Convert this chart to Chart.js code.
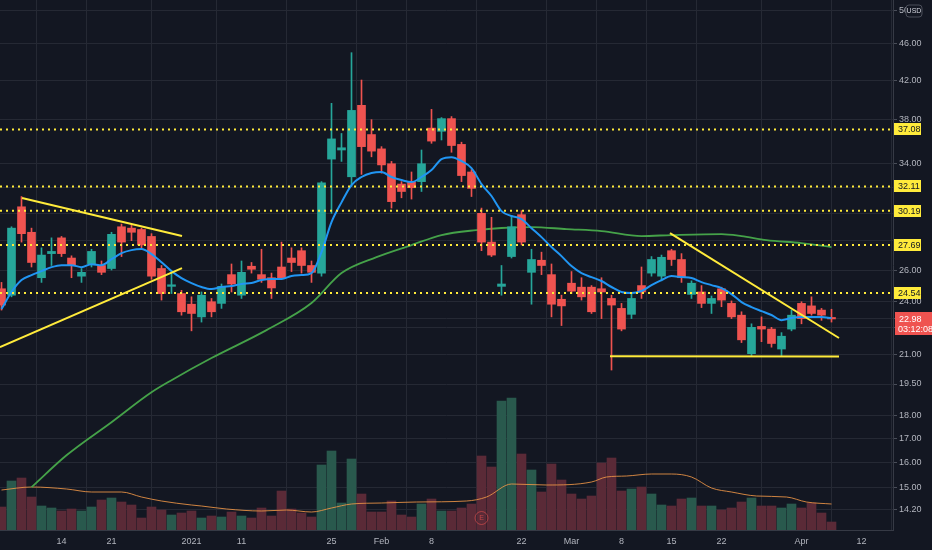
<!DOCTYPE html>
<html><head><meta charset="utf-8">
<script src="https://cdn.jsdelivr.net/npm/chart.js@4.4.1/dist/chart.umd.min.js"></script>
<style>html,body{margin:0;padding:0;background:#131722;overflow:hidden}canvas{display:block}</style>
</head><body>
<canvas id="c" width="932" height="550" style="width:932px;height:550px"></canvas>
<script>
// ---- data (daily candles, index 0 = Dec 4 2020) ----
const open  = [24.8,24.4,30.5,28.6,25.5,27.1,28.2,26.8,25.6,26.4, 26.3,26.1,29.0,28.9,28.8,28.3,26.1,24.95,24.5,23.85, 23.1,24.0,23.9,25.7,24.4,26.25,25.7,25.5,26.2,26.8, 27.3,26.3,25.8,34.4,35.2,32.9,39.4,36.6,35.3,34.0, 32.3,32.45,32.5,37.2,36.9,38.1,35.7,33.3,30.0,27.9, 24.95,26.9,29.9,25.85,26.65,25.7,24.15,25.15,24.9,24.9, 24.8,24.2,23.6,23.25,25.0,25.8,25.6,27.3,26.7,24.45, 24.6,23.9,24.8,23.9,23.2,21.05,22.55,22.4,21.3,22.4, 23.9,23.75,23.5,23.05];
const high  = [25.2,29.0,31.3,28.9,27.5,28.2,28.3,26.95,26.1,27.4, 26.6,28.6,29.2,29.1,28.9,28.5,26.3,25.8,24.7,24.3, 24.6,24.2,25.1,26.4,26.6,26.5,27.4,25.8,27.9,27.5, 27.5,26.6,32.5,39.6,36.7,45.0,42.0,38.0,35.5,34.2, 32.5,33.3,35.2,39.0,38.2,38.3,35.9,33.5,30.4,29.7, 26.3,29.8,30.2,27.4,27.2,26.4,24.4,25.9,25.5,25.0, 25.5,24.4,23.9,24.5,26.2,26.9,27.0,27.4,27.1,25.3, 25.0,24.35,24.9,24.05,23.4,22.7,23.1,22.5,22.2,23.5, 24.0,24.3,23.6,23.55];
const low   = [23.5,24.3,27.9,26.2,25.2,26.3,26.9,25.5,25.2,26.2, 25.7,26.0,26.9,28.0,27.5,25.4,24.1,24.5,23.2,22.3, 22.8,23.1,23.6,24.6,24.2,25.8,25.2,24.2,25.4,25.9, 25.8,25.2,25.6,30.0,34.2,32.1,33.1,34.6,33.2,30.4, 31.2,31.1,31.7,35.8,36.1,35.0,32.5,31.3,27.3,26.9, 24.4,26.8,27.7,23.85,25.7,23.1,22.6,24.5,24.1,23.3, 23.0,20.2,22.3,23.0,24.2,25.6,25.3,26.3,25.2,24.2, 23.65,23.3,23.7,23.0,21.65,20.95,21.7,21.4,20.95,22.3, 22.7,23.2,22.9,22.8];
const close = [23.8,28.9,28.5,26.5,27.0,27.25,27.1,26.3,25.85,27.25, 25.85,28.45,27.9,28.6,27.7,25.6,24.5,25.05,23.4,23.3, 24.4,23.4,24.95,25.1,25.85,26.05,25.4,24.85,25.5,26.5, 26.3,25.85,32.4,36.2,35.4,38.9,35.5,35.1,33.9,30.9, 31.7,32.0,34.0,36.0,38.1,35.6,33.0,31.95,27.9,27.0, 25.1,29.0,27.9,26.7,26.3,23.85,23.75,24.65,24.3,23.4, 24.6,23.8,22.4,24.2,24.6,26.7,26.85,26.7,25.5,25.15, 23.9,24.2,24.1,23.1,21.8,22.5,22.4,21.6,22.0,23.2, 23.0,23.3,23.2,22.98];
const volume = [2.3,4.9,5.2,3.3,2.4,2.2,1.9,2.1,1.9,2.3, 3.0,3.2,2.8,2.5,1.2,2.3,2.0,1.5,1.7,1.9, 1.2,1.4,1.3,1.8,1.4,1.2,2.2,1.4,3.9,2.1, 1.7,1.3,6.5,7.9,2.7,7.1,3.6,1.8,1.8,2.9, 1.5,1.3,2.6,3.1,1.9,1.9,2.2,2.6,7.4,6.3, 12.9,13.2,7.6,6.0,3.8,6.6,5.0,3.6,3.1,3.4, 6.7,7.2,3.9,4.1,4.3,3.6,2.5,2.4,3.1,3.2, 2.4,2.4,2.0,2.2,2.8,3.2,2.4,2.4,2.2,2.6, 2.2,2.7,1.7,0.8];
const maFast = [23.56,24.6,25.35,25.67,25.93,26.19,26.32,26.32,26.19,26.39, 26.32,26.72,27.13,27.34,27.41,27.07,26.52,25.93,25.48,25.16, 24.91,24.78,24.91,24.97,25.10,25.16,25.35,25.42,25.42,25.61, 25.67,25.80,27.2,29.34,30.84,32.22,32.88,33.21,33.29,32.88, 32.63,32.46,32.88,33.46,34.40,34.57,34.23,33.63,32.30,31.34, 30.17,29.80,29.57,28.90,28.25,27.55,26.93,26.26,25.80,25.54, 25.29,24.91,24.60,24.53,24.66,25.03,25.35,25.61,25.54,25.48, 25.22,25.03,24.84,24.47,23.98,23.68,23.44,23.21,22.91,23.03, 23.09,23.09,23.09,23.03];
const maSlowIdx = [3,6.5,11,15,17,21,26.5,31,34,37.5,41,44,47.5,50,53,56.5,60,64,67,72,74,76.5,80,83];
const maSlow    = [15.03,16.29,17.71,19.10,19.69,20.82,22.34,23.92,25.80,26.86,27.69,28.40,28.76,28.91,28.98,28.83,28.69,28.33,28.40,28.47,28.33,28.04,27.83,27.55];
const volMaIdx = [0,3,6.5,9,12,14,16,19,20,22.5,26,28.5,31,33,35,38,41.5,46.5,48.5,51,54.5,59,60.5,62.5,65,67,69,71,73,75.5,78.5,80.5,83];
const volMa    = [4.0,4.3,4.1,3.8,3.8,3.3,2.9,2.5,2.4,2.1,1.9,2.0,1.8,2.2,2.6,2.7,2.8,2.9,3.3,4.6,4.5,4.8,5.3,5.4,5.6,5.6,5.3,4.2,3.8,3.4,3.3,2.8,2.6];
const levels = [37.08, 32.11, 30.19, 27.69, 24.54];
const trendA = [[2.05,31.18],[18.05,28.33]];
const trendB = [[-0.15,21.40],[18.05,26.13]];
const trendC = [[66.85,28.54],[83.75,21.90]];
const trendD = [[60.85,20.92],[83.75,20.90]];
const lastPrice = 22.98;
const countdown = '03:12:08';
const earningsIdx = 48;
const xTickIdx  = [6,11,19,24,33,38,43,52,57,62,67,72,80,86];
const xTickText = ['14','21','2021','11','25','Feb','8','22','Mar','8','15','22','Apr','12'];
const yTickVals = [14.2,15,16,17,18,19.5,21,22.5,23,24,26,28,30,32,34,38,42,46,50];
const yTickText = ['14.20','15.00','16.00','17.00','18.00','19.50','21.00','','','24.00','26.00','','','','34.00','38.00','42.00','46.00','50.00'];

// ---- styling ----
const UP = '#26a69a', DOWN = '#ef5350';
const UPV = '#29594d', DOWNV = '#5a2a37';
const GRID = '#252934', TXT = '#b2b5be', BG = '#131722';
const X_MIN = -0.15, X_MAX = 89.15;
const FONT = '"Liberation Sans", Arial, sans-serif';

const idx = open.map((_, i) => i);
const isUp = idx.map(i => close[i] >= open[i]);
const candleColor = isUp.map(u => u ? UP : DOWN);

const lineDs = (pts, color, width, order, dash) => ({
  type: 'line', data: pts.map(p => ({x: p[0], y: p[1]})), borderColor: color, borderWidth: width,
  borderDash: dash || [], pointRadius: 0, fill: false, order: order, yAxisID: 'y', tension: 0
});

const datasets = [
  { type: 'bar', label: 'vol', data: idx.map(i => ({x: i, y: volume[i]})), yAxisID: 'yv',
    backgroundColor: isUp.map(u => u ? UPV : DOWNV), barThickness: 9, grouped: false, order: 10 },
  { type: 'line', label: 'volma', data: volMaIdx.map((x, k) => ({x, y: volMa[k]})), yAxisID: 'yv',
    borderColor: 'rgba(240,150,70,0.85)', borderWidth: 1, pointRadius: 0, cubicInterpolationMode: 'monotone', order: 9 },
  { type: 'line', label: 'maSlow', data: maSlowIdx.map((x, k) => ({x, y: maSlow[k]})), yAxisID: 'y',
    borderColor: '#45a249', borderWidth: 1.8, pointRadius: 0, cubicInterpolationMode: 'monotone', order: 8 },
  { type: 'bar', label: 'wick', data: idx.map(i => ({x: i, y: [low[i], high[i]]})), yAxisID: 'y',
    backgroundColor: candleColor, barThickness: 1, grouped: false, order: 7 },
  { type: 'bar', label: 'body', data: idx.map(i => ({x: i, y: [Math.min(open[i], close[i]), Math.max(open[i], close[i])]})), yAxisID: 'y',
    backgroundColor: candleColor, barThickness: 8, minBarLength: 1.5, grouped: false, order: 6 },
  { type: 'line', label: 'maFast', data: idx.map(i => ({x: i, y: maFast[i]})), yAxisID: 'y',
    borderColor: '#2196f3', borderWidth: 2, pointRadius: 0, cubicInterpolationMode: 'monotone', order: 5 },
];
levels.forEach(v => datasets.push(lineDs([[X_MIN, v], [X_MAX, v]], '#ffeb3b', 2, 4, [2, 4])));
[trendA, trendB, trendC, trendD].forEach(t => datasets.push(lineDs(t, '#ffeb3b', 2, 3)));

const bgPlugin = { id: 'bg', beforeDraw(c) { const ctx = c.ctx; ctx.save(); ctx.fillStyle = BG; ctx.fillRect(0, 0, c.width, c.height); ctx.restore(); } };

const overlay = { id: 'overlay', afterDraw(c) {
  const ctx = c.ctx, ys = c.scales.y, xs = c.scales.x, a = c.chartArea;
  ctx.save();
  ctx.font = '9px ' + FONT;
  ctx.textBaseline = 'middle';
  ctx.textAlign = 'left';
  levels.forEach(v => {
    const y = Math.round(ys.getPixelForValue(v));
    ctx.fillStyle = '#ffeb3b';
    ctx.fillRect(a.right + 1, y - 6, 27, 12);
    ctx.fillStyle = '#131722';
    ctx.fillText(v.toFixed(2), a.right + 5, y + 0.5);
  });
  const yp = Math.round(ys.getPixelForValue(lastPrice));
  ctx.fillStyle = DOWN;
  ctx.fillRect(a.right + 2, yp - 7, c.width - a.right - 2, 23);
  ctx.fillStyle = '#ffffff';
  ctx.fillText(lastPrice.toFixed(2), a.right + 6, yp + 0.5);
  ctx.fillText(countdown, a.right + 5, yp + 10.5);
  // currency badge
  const bx = 906, by = 5, bw = 16, bh = 12;
  ctx.beginPath();
  if (ctx.roundRect) ctx.roundRect(bx, by, bw, bh, 3); else ctx.rect(bx, by, bw, bh);
  ctx.fillStyle = BG; ctx.fill();
  ctx.strokeStyle = '#4a4e59'; ctx.lineWidth = 1; ctx.stroke();
  ctx.fillStyle = '#d1d4dc'; ctx.font = '7px ' + FONT; ctx.textAlign = 'center';
  ctx.fillText('USD', bx + bw / 2, by + bh / 2 + 0.5);
  // earnings marker
  const ex = xs.getPixelForValue(earningsIdx), ey = a.bottom - 12;
  ctx.beginPath(); ctx.arc(ex, ey, 6.5, 0, Math.PI * 2);
  ctx.strokeStyle = 'rgba(239,83,80,0.55)'; ctx.lineWidth = 1; ctx.stroke();
  ctx.fillStyle = 'rgba(239,83,80,0.7)'; ctx.font = '7px ' + FONT;
  ctx.fillText('E', ex, ey + 0.5);
  ctx.restore();
}};

new Chart(document.getElementById('c'), {
  type: 'bar',
  data: { datasets },
  plugins: [bgPlugin, overlay],
  options: {
    responsive: false, animation: false, devicePixelRatio: 1,
    layout: { padding: 0 },
    plugins: { legend: { display: false }, tooltip: { enabled: false } },
    scales: {
      x: {
        type: 'linear', min: X_MIN, max: X_MAX, offset: false,
        afterBuildTicks: s => { s.ticks = xTickIdx.map(v => ({value: v})); },
        afterFit: s => { s.height = 20; s.paddingLeft = 0; s.paddingRight = 0; },
        ticks: { callback: (v, i) => xTickText[i], color: TXT, font: {size: 9, family: FONT}, padding: 6, autoSkip: false, maxRotation: 0 },
        grid: { color: GRID, drawTicks: false },
        border: { color: '#363a45' }
      },
      y: {
        type: 'logarithmic', position: 'right', min: 13.49, max: 51.4,
        afterBuildTicks: s => { s.ticks = yTickVals.map(v => ({value: v})); },
        afterFit: s => { s.width = 39; s.paddingTop = 0; s.paddingBottom = 0; },
        ticks: { callback: (v, i) => yTickText[i], color: TXT, font: {size: 9, family: FONT}, padding: 2, autoSkip: false },
        grid: { color: GRID, tickLength: 4, tickColor: '#4a4e59' },
        border: { color: '#363a45' }
      },
      yv: { type: 'linear', min: 0, max: 53, display: false }
    }
  }
});
</script>
</body></html>
